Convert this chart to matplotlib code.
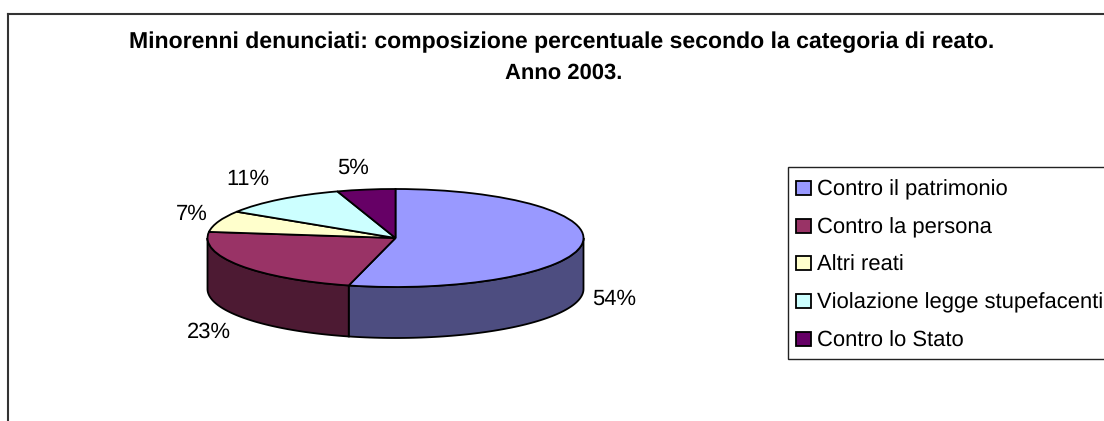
import numpy as np
import matplotlib
matplotlib.use("Agg")
import matplotlib.pyplot as plt
from matplotlib.patches import Patch, Polygon, Rectangle
from matplotlib.lines import Line2D

categories = ["Contro il patrimonio", "Contro la persona", "Altri reati",
              "Violazione legge stupefacenti", "Contro lo Stato"]
values = [54, 23, 7, 11, 5]
colors = ["#9999FF", "#993366", "#FFFFCC", "#CCFFFF", "#660066"]
side_colors = ["#4D4D80", "#4D1A33", "#808066", "#668080", "#330033"]
title_1 = "Minorenni denunciati: composizione percentuale secondo la categoria di reato."
title_2 = "Anno 2003."

W, H = 1104, 421
plt.rcParams["font.family"] = ["Liberation Sans", "DejaVu Sans"]
plt.rcParams["text.hinting"] = "no_hinting"
plt.rcParams["text.hinting_factor"] = 1

# pie ellipse in image pixels
CX, CY, RX, RY = 395.5, 238.0, 188.0, 49.0
DEPTH = 51.0 / RY
label_pos = [(614, 299), (209, 332), (192, 214), (248, 179), (353, 168)]


def fx(x):
    return x / W


def fy(y):
    return 1 - y / H


fig = plt.figure(figsize=(W / 100, H / 100), dpi=100)
fig.patch.set_facecolor("white")

# outer chart frame, cut off by the picture on the right and bottom
frame_color = "#333333"
fig.add_artist(Line2D([fx(8), fx(8)], [fy(14), fy(421)], color=frame_color, lw=1.5))
fig.add_artist(Line2D([fx(8), fx(1104)], [fy(14), fy(14)], color=frame_color, lw=1.5))

# first title line is letter-spaced in the original, so it gets a bit more size
fig.text(fx(562), fy(42), title_1, ha="center", va="center", fontsize=16.5,
         fontweight="bold", color="black")
fig.text(fx(563.5), fy(73), title_2, ha="center", va="center", fontsize=15.9,
         fontweight="bold", color="black")

# axes: x -1..1 over the ellipse width, y in units of RY, with room for the wall
ax = fig.add_axes([fx(CX - RX), fy(CY + RY + DEPTH * RY + 4), 2 * RX / W,
                   (2 * RY + DEPTH * RY + 8) / H])
ax.pie(values, colors=colors, startangle=90, counterclock=False, radius=1,
       wedgeprops={"edgecolor": "black", "linewidth": 1.3, "zorder": 3})
ax.set_aspect("auto")
ax.set_xlim(-1, 1)
ax.set_ylim(-1 - DEPTH - 4 / RY, 1 + 4 / RY)
for sp in ax.spines.values():
    sp.set_visible(False)
for patch in ax.patches:
    patch.set_clip_on(False)

# side wall of the slices on the front half of the ellipse
start = 90.0
for val, col in zip(values, side_colors):
    end = start - val * 3.6
    lo, hi = max(end, -180.0), min(start, 0.0)
    if hi > lo:
        t = np.radians(np.linspace(lo, hi, 80))
        top = np.column_stack([np.cos(t), np.sin(t)])
        bot = top[::-1] - [0, DEPTH]
        ax.add_patch(Polygon(np.vstack([top, bot]), closed=True, facecolor=col,
                             edgecolor="black", linewidth=1.3, zorder=2, clip_on=False))
    start = end

for val, (x, y) in zip(values, label_pos):
    fig.text(fx(x), fy(y), f"{val}%", ha="center", va="center", fontsize=15.8, color="black")

# legend box drawn apart, its padding is not uniform (right edge runs off the picture)
fig.add_artist(Rectangle((fx(788), fy(359)), fx(330), fy(167) - fy(359), facecolor="white",
                         edgecolor="#222222", linewidth=1.0, transform=fig.transFigure))

handles = [Patch(facecolor=c, edgecolor="black", linewidth=1.3) for c in colors]
leg = fig.legend(handles, categories, loc="upper left",
                 bbox_to_anchor=(fx(796), fy(180)), borderaxespad=0,
                 fontsize=15.8, frameon=False, handlelength=0.68, handleheight=0.6,
                 handletextpad=0.27, labelspacing=0.78, borderpad=0)
leg.set_zorder(5)

fig.savefig("out.png", dpi=100)
